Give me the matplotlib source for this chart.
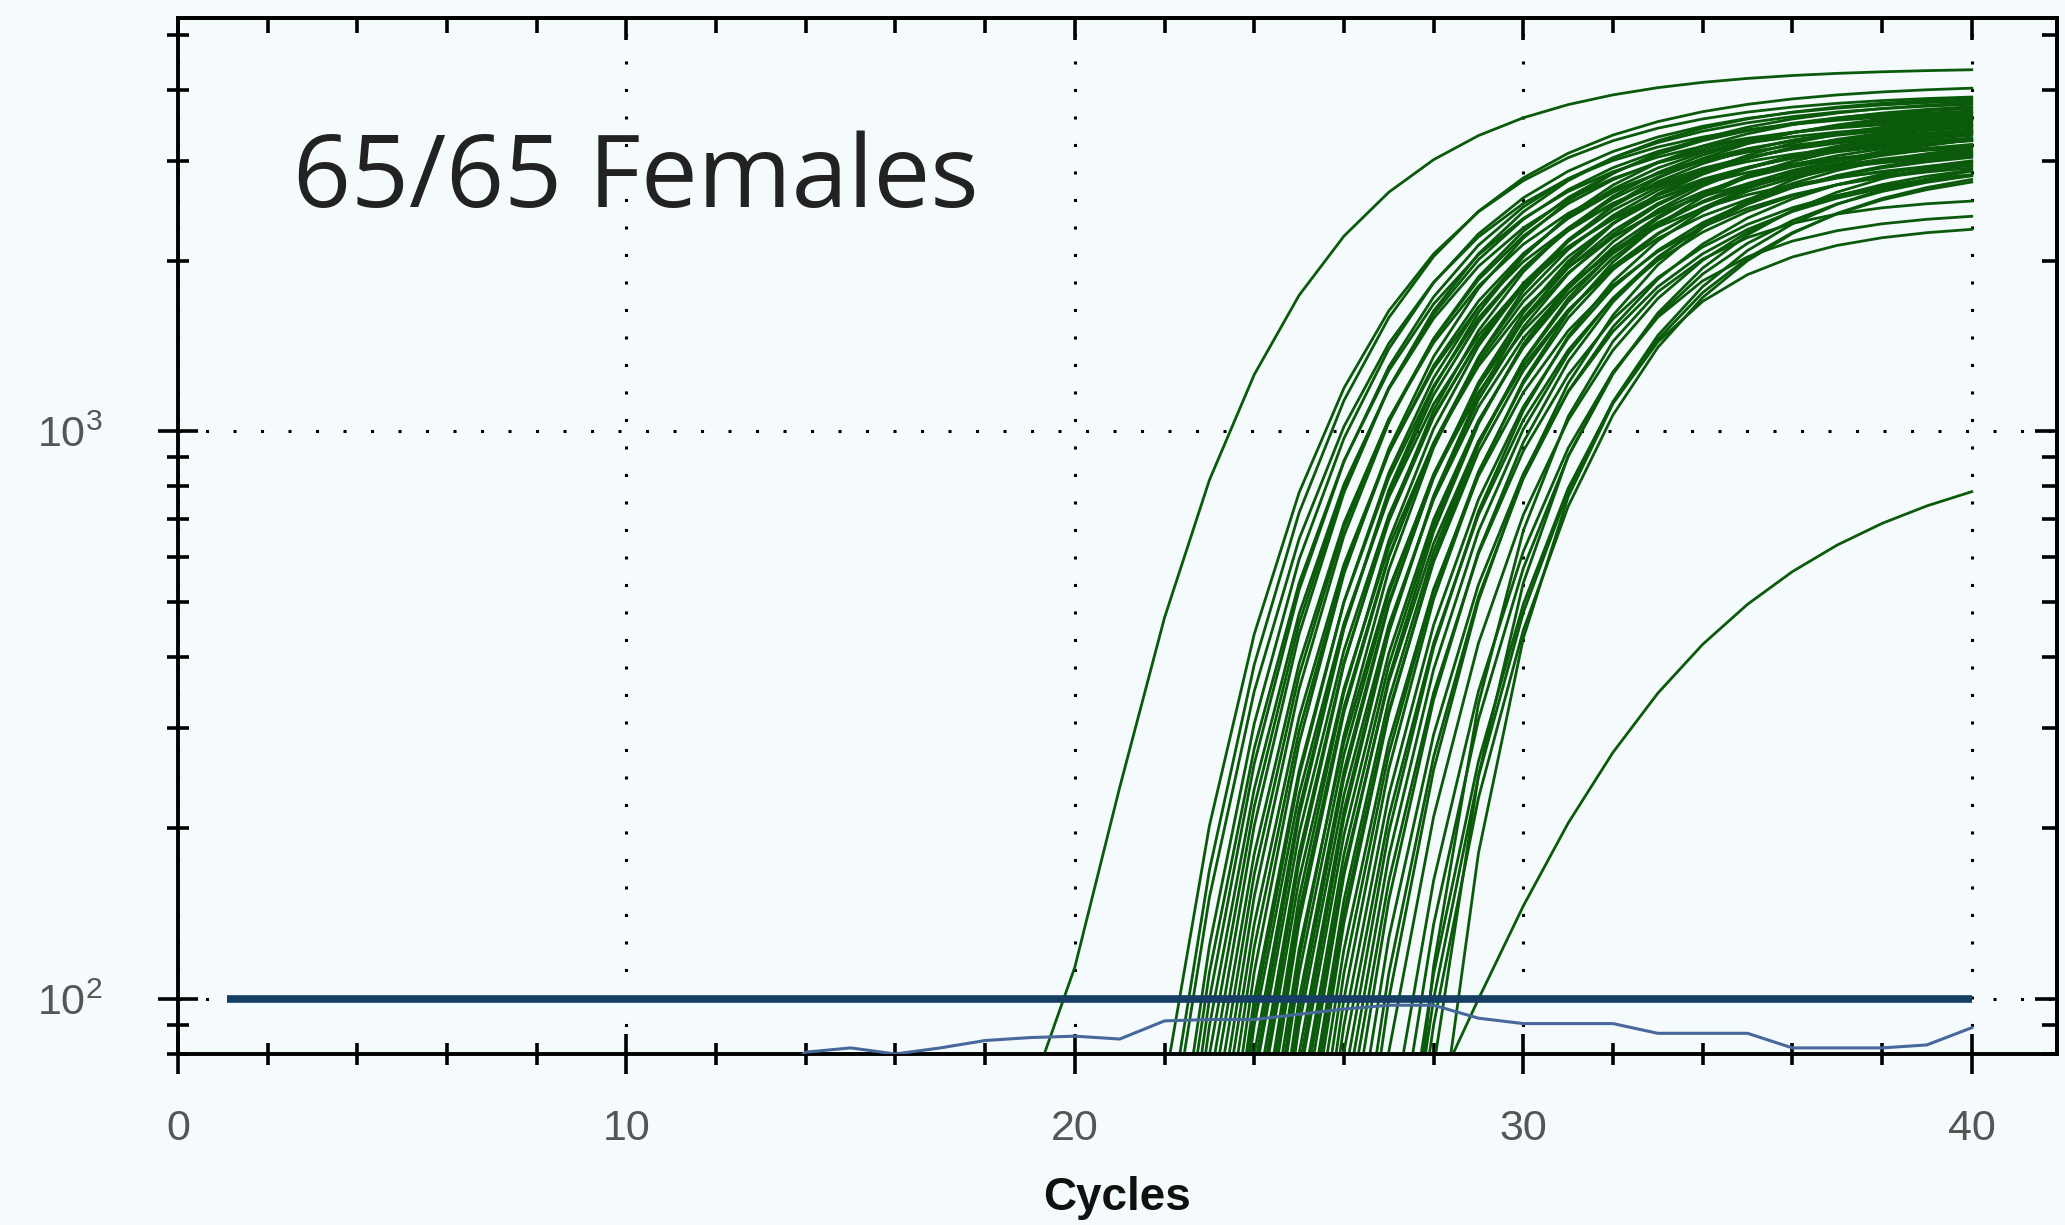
import numpy as np
import matplotlib.pyplot as plt
from matplotlib.ticker import FixedLocator, LogLocator, MultipleLocator, NullFormatter

plt.rcParams['font.family'] = ['Liberation Sans', 'DejaVu Sans']

BG = '#f5fbfd'

# cycle numbers of the run
cycles = np.arange(1, 41)

# threshold crossing (cycle at 100 units) for each of the 65 female samples
ct_values = [
    19.8,
    22.3, 22.5, 22.6, 22.8, 22.9, 23.0, 23.1, 23.2, 23.3, 23.4,
    23.5, 23.6, 23.7, 23.8, 23.9, 24.0, 24.05, 24.1, 24.2, 24.25,
    24.3, 24.4, 24.45, 24.5, 24.6, 24.65, 24.7, 24.8, 24.85, 24.9,
    25.0, 25.05, 25.1, 25.2, 25.25, 25.3, 25.4, 25.45, 25.5, 25.6,
    25.65, 25.7, 25.8, 25.9, 26.0, 26.1, 26.2, 26.3, 26.4, 26.5,
    26.6, 26.75, 26.9, 27.0, 27.2, 27.5, 27.7, 27.9, 28.0, 28.1,
    27.9, 28.2, 28.5,
    29.0,
]

# plateau fluorescence of each sample
plateau_values = [
    4380,
    3950, 4100, 3700, 3900, 3600, 3850, 3550, 3750, 3950, 3450,
    3650, 3800, 3350, 3550, 3900, 3450, 3700, 3250, 3600, 3850,
    3350, 3500, 3750, 3150, 3650, 3400, 3550, 3050, 3800, 3300,
    3450, 3600, 3200, 3500, 3700, 3250, 3400, 3100, 3550, 3350,
    3250, 3500, 3050, 3350, 3550, 3200, 3100, 3450, 3250, 3000,
    3350, 3000, 3200, 3500, 3100, 3050, 3250, 3000, 3150, 3050,
    2600, 2450, 2330,
    1000,
]

# growth-curve shape (cycles) and background level per sample
shape_values = [3.3] + [3.3] * 60 + [2.4] * 3 + [4.7]
baseline_values = [55] + [0] * 63 + [30]

# no-template control trace (cycles 13..40)
ntc_cycles = np.arange(13, 41)
ntc_values = [70, 80.6, 82, 80, 82, 84.5, 85.5, 86, 85, 91.5, 92, 92, 94, 96,
              97.5, 97.5, 92.5, 90.5, 90.5, 90.5, 87, 87, 87, 82, 82, 82, 83, 89]

threshold = 100
threshold_span = (1.1, 40)


def amp_curve(ct, plateau, s, base):
    top = np.log10(plateau - base)
    d0 = top - np.log10(threshold - base)
    return base + 10 ** (top - d0 * np.exp(-(cycles - ct) / s))


fig = plt.figure(figsize=(20.65, 12.25), dpi=100, facecolor=BG)
ax = fig.add_axes([0.0862, 0.1396, 0.9099, 0.8457], facecolor=BG)
ax.set_yscale('log')
ax.set_xlim(0, 41.9)
ax.set_ylim(80, 5350)
ax.set_axisbelow(True)

for ct, p, s, b in zip(ct_values, plateau_values, shape_values, baseline_values):
    ax.plot(cycles, amp_curve(ct, p, s, b), color='#0b5a0b', lw=2.0, zorder=2)

ax.plot(ntc_cycles, ntc_values, color='#46689a', lw=2.2, zorder=3)
ax.plot(threshold_span, [threshold, threshold], color='#163d63', lw=5.5,
        solid_capstyle='butt', zorder=4)

# grid
ax.grid(True, which='major', color='black', linestyle=(0, (1, 8)), lw=2.2)

# ticks
ax.xaxis.set_major_locator(FixedLocator([0, 10, 20, 30, 40]))
ax.xaxis.set_minor_locator(MultipleLocator(2))
ax.yaxis.set_major_locator(LogLocator(base=10))
ax.yaxis.set_minor_locator(LogLocator(base=10, subs=np.arange(2, 10)))
ax.yaxis.set_minor_formatter(NullFormatter())
ax.tick_params(which='major', direction='inout', length=29, width=2.6,
               labelsize=31, labelcolor='#555555', pad=40)
ax.tick_params(which='minor', direction='inout', length=16, width=2.6)
ax.tick_params(axis='x', which='major', pad=25)
for sp in ax.spines.values():
    sp.set_linewidth(2.8)

secx = ax.secondary_xaxis('top')
secx.xaxis.set_major_locator(FixedLocator([0, 10, 20, 30, 40]))
secx.xaxis.set_minor_locator(MultipleLocator(2))
secx.tick_params(which='both', direction='in', labeltop=False, width=2.6)
secx.tick_params(which='major', length=16)
secx.tick_params(which='minor', length=11)
secx.spines['top'].set_linewidth(2.8)

secy = ax.secondary_yaxis('right')
secy.set_yscale('log')
secy.yaxis.set_major_locator(LogLocator(base=10))
secy.yaxis.set_minor_locator(LogLocator(base=10, subs=np.arange(2, 10)))
secy.tick_params(which='both', direction='in', labelright=False, width=2.6)
secy.tick_params(which='major', length=16)
secy.tick_params(which='minor', length=11)
secy.spines['right'].set_linewidth(2.8)

ax.set_xlabel('Cycles', fontsize=33, fontweight='bold', color='#111111')
ax.xaxis.set_label_coords(0.5, -0.118)

fig.text(293 / 2065, 1 - 207 / 1225, '65/65 Females', fontsize=73,
         family=['Open Sans', 'DejaVu Sans'], color='#222222',
         ha='left', va='baseline')

fig.savefig('out.png', dpi=100, facecolor=BG)
